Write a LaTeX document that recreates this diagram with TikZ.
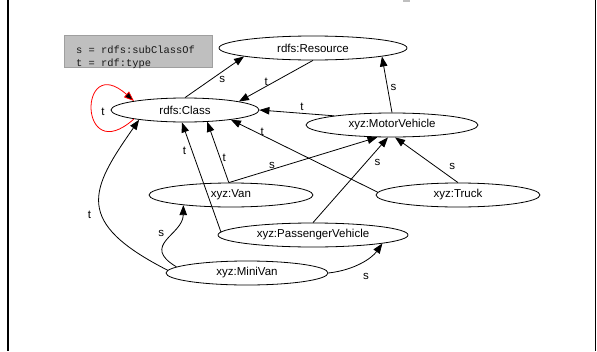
\documentclass[tikz,border=0pt]{standalone}
\usepackage{fontspec}
\setmainfont{Liberation Sans}
\newfontfamily\legendfont{Liberation Mono}
\usetikzlibrary{shapes.geometric,arrows.meta}
\begin{document}
\begin{tikzpicture}[x=1pt,y=-1pt,
  cnode/.style={draw, ellipse, inner sep=0pt, line width=0.8pt, font=\fontsize{11.5}{13}\selectfont},
  rel/.style={line width=0.8pt, -{Triangle[length=10pt,width=7.5pt]}},
  lbl/.style={font=\fontsize{11.5}{13}\selectfont, inner sep=0pt, text=black},
  legtext/.style={font=\legendfont\fontsize{10.4}{13}\selectfont, inner sep=0pt, anchor=base west, text=black!90}]
\useasboundingbox (0,0) rectangle (597,351);
% frame
\draw[line width=2pt] (8.3,0) -- (8.3,351);
\draw[line width=1pt] (595.3,0) -- (595.3,351);
\fill[gray!50] (403,0) rectangle (410,1.5);
% legend
\node[draw=gray!75, fill=gray!50, line width=0.8pt, minimum width=148pt, minimum height=32pt, inner sep=0pt, anchor=north west] (legend) at (64,35) {};
\node[legtext] (leg1) at (76,53) {s = rdfs:subClassOf};
\node[legtext] (leg2) at (76,66.5) {t = rdf:type};
% nodes
\node[cnode, minimum width=188pt, minimum height=24pt] (res) at (313,48) {rdfs:Resource};
\node[cnode, minimum width=148pt, minimum height=24pt] (cls) at (185,110) {rdfs:Class};
\node[cnode, minimum width=172pt, minimum height=24pt] (mv) at (392,125) {xyz:MotorVehicle};
\node[cnode, minimum width=164pt, minimum height=24pt] (van) at (231,195) {xyz:Van};
\node[cnode, minimum width=164pt, minimum height=24pt] (truck) at (458,195) {xyz:Truck};
\node[cnode, minimum width=190pt, minimum height=24pt] (pv) at (313,235) {xyz:PassengerVehicle};
\node[cnode, minimum width=162pt, minimum height=24pt] (mini) at (247,273) {xyz:MiniVan};
% edges
\draw[rel] (cls.90) -- (res.187) node[lbl,pos=0.63,yshift=-8pt]{s};
\draw[rel] (res.270) -- (cls.9) node[lbl,pos=0.59,xshift=-3pt,yshift=3pt]{t};
\draw[rel] (mv.90) -- (res.-7) node[lbl,pos=0.44,xshift=6pt]{s};
\draw[rel] (mv.171) -- (cls.0) node[lbl,pos=0.43,yshift=6pt]{t};
\draw[rel] (truck.178) -- (cls.-12) node[lbl,pos=0.78,xshift=-1pt,yshift=4pt]{t};
\draw[rel] (van.100) -- (mv.220) node[lbl,pos=0.29,yshift=4pt]{s};
\draw[rel] (pv.90) -- (mv.252) node[lbl,pos=0.7,xshift=12pt]{s};
\draw[rel] (truck.90) -- (mv.284) node[lbl,pos=0.36,xshift=17pt]{s};
\draw[rel] (van.100) -- (cls.-28) node[lbl,pos=0.4,xshift=4pt]{t};
\draw[rel] (pv.178) -- (cls.256) node[lbl,pos=0.74,xshift=-7.5pt]{t};
\draw[rel] (mini.178) .. controls (73,222) and (90,190) .. (cls.192) node[lbl,pos=0.4,xshift=-13pt,yshift=1.5pt]{t};
\draw[rel] (mini.175) .. controls (140,245) and (183,235) .. (van.192) node[lbl,pos=0.6,xshift=-9pt]{s};
\draw[rel] (mini.east) .. controls (355,270) and (372,258) .. (pv.-7) node[lbl,pos=0.55,xshift=2pt,yshift=-15pt]{s};
\draw[rel, red, -{Triangle[length=10pt,width=7.5pt,fill=black]}] (cls.190) .. controls (78,169) and (78,51) .. (cls.170) node[lbl,pos=0.5,xshift=11pt,yshift=-2pt]{t};
\end{tikzpicture}
\end{document}
